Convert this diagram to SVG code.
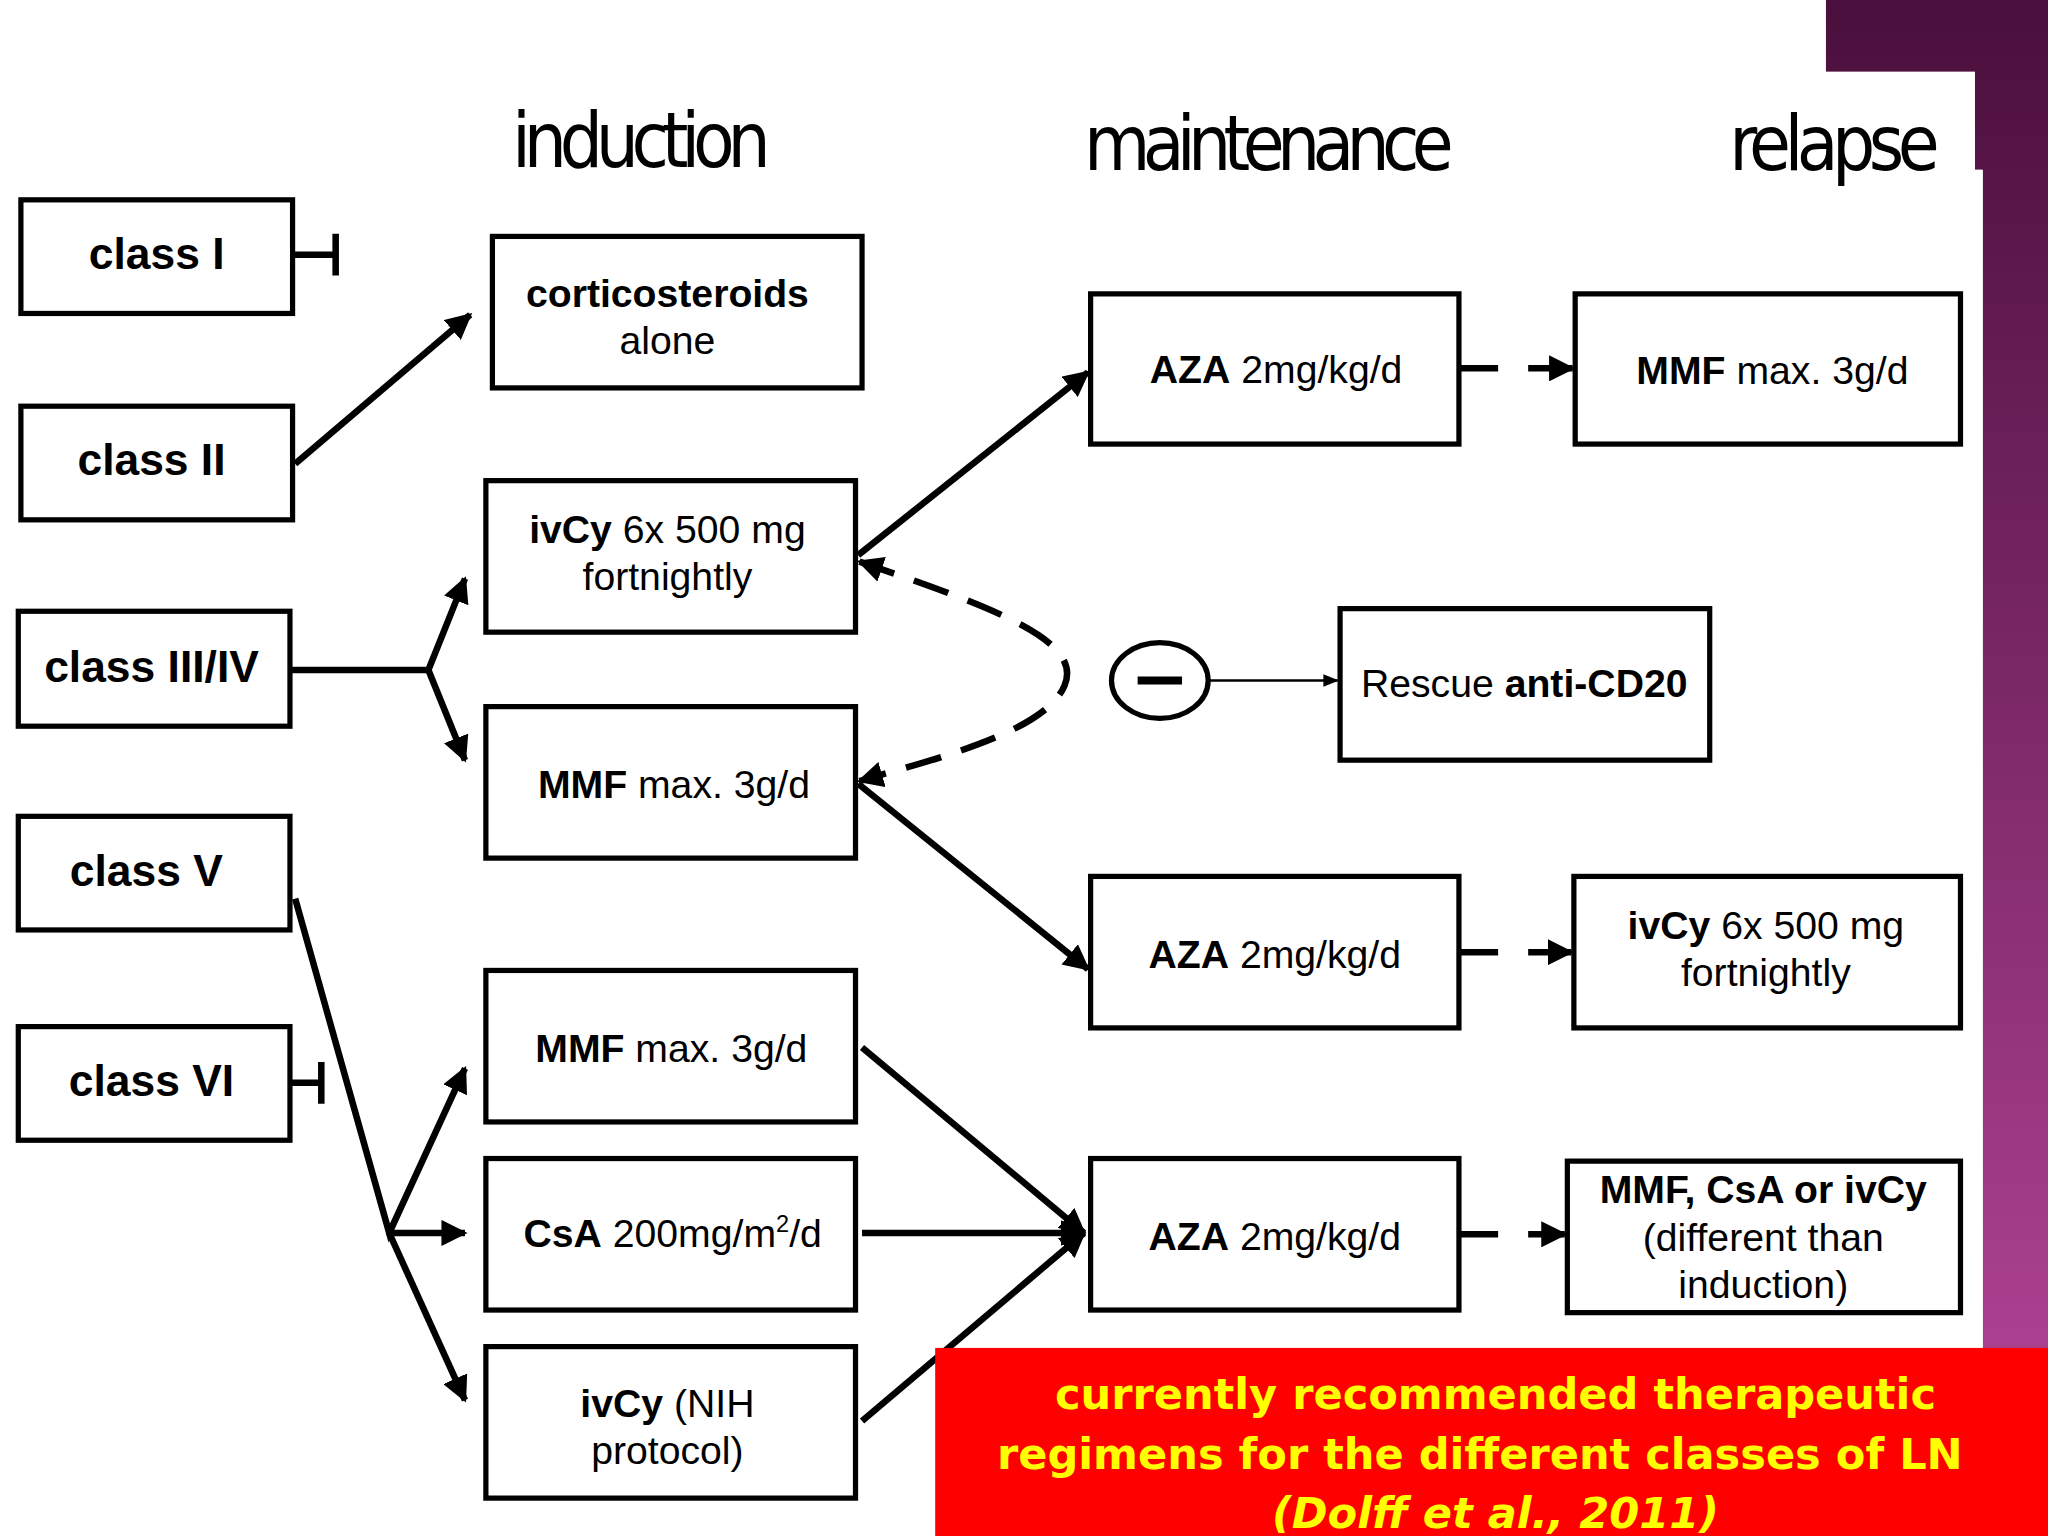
<svg xmlns="http://www.w3.org/2000/svg" width="2048" height="1536" viewBox="0 0 2048 1536">
<defs>
<linearGradient id="pg" x1="0" y1="0" x2="0" y2="1"><stop offset="0" stop-color="#4a0f3c"/><stop offset="1" stop-color="#b8479c"/></linearGradient>
<marker id="ah" viewBox="0 0 10 10" refX="9" refY="5" markerWidth="4" markerHeight="4" orient="auto-start-reverse" markerUnits="strokeWidth"><path d="M0,0 L10,5 L0,10 z" fill="#000"/></marker>
<marker id="ahs" viewBox="0 0 10 10" refX="9" refY="5" markerWidth="6" markerHeight="6" orient="auto" markerUnits="strokeWidth"><path d="M0,1 L10,5 L0,9 z" fill="#000"/></marker>
<style>
.b{fill:#fff;stroke:#000;stroke-width:4}
.c{fill:none;stroke:#000;stroke-width:5}
.t{font-family:"Liberation Sans",Arial,sans-serif;font-size:30px;fill:#000;text-anchor:middle}
.cl{font-family:"Liberation Sans",Arial,sans-serif;font-size:34px;font-weight:bold;fill:#000;text-anchor:middle}
.h{font-family:"DejaVu Sans Condensed","Liberation Sans Narrow","Liberation Sans",sans-serif;font-size:58px;fill:#000}
.y{font-family:"DejaVu Sans",Verdana,sans-serif;font-size:33px;font-weight:bold;fill:#ffff00;text-anchor:middle}
</style>
</defs>
<rect width="2048" height="1536" fill="#fff"/>
<g transform="scale(1.30612)">
<path d="M1398,0 H1568 V1176 H1518 V130 H1512 V55 H1398 Z" fill="url(#pg)"/>
<rect x="0" y="55" width="1512" height="1000" fill="#fff"/>
<rect x="1512" y="130" width="6" height="925" fill="#fff"/>
<g id="headers">
<text class="h" x="392" y="128" textLength="198">induction</text>
<text class="h" x="830" y="130" textLength="283">maintenance</text>
<text class="h" x="1324" y="130" textLength="161">relapse</text>
</g>
<g id="connectors">
<path class="c" d="M224,195 H257 M257,179 V211"/>
<path class="c" d="M226,355 L360,241" marker-end="url(#ah)"/>
<path class="c" d="M222,513 H328 L356,443" marker-end="url(#ah)"/>
<path class="c" d="M328,513 L356,582" marker-end="url(#ah)"/>
<path class="c" d="M226,688 L298,944 L356,818" marker-end="url(#ah)"/>
<path class="c" d="M298,944 H356" marker-end="url(#ah)"/>
<path class="c" d="M298,944 L356,1072" marker-end="url(#ah)"/>
<path class="c" d="M222,829 H246 M246,813 V845"/>
<path class="c" d="M657,425 L833,285" marker-end="url(#ah)"/>
<path class="c" d="M657,600 L833,742" marker-end="url(#ah)"/>
<path class="c" d="M660,802 L830,944" marker-end="url(#ah)"/>
<path class="c" d="M660,944 H830" marker-end="url(#ah)"/>
<path class="c" d="M660,1088 L830,944" marker-end="url(#ah)"/>
<path class="c" d="M1117,282 H1147 M1170,282 H1204" marker-end="url(#ah)"/>
<path class="c" d="M1117,729 H1147 M1170,729 H1203" marker-end="url(#ah)"/>
<path class="c" d="M1117,945 H1147 M1170,945 H1198" marker-end="url(#ah)"/>
<path class="c" d="M658,430 C760,465 830,490 815,525 C800,560 720,580 658,598" stroke-dasharray="28,16" marker-start="url(#ah)" marker-end="url(#ah)"/>
<ellipse cx="888" cy="521" rx="37" ry="29" fill="none" stroke="#000" stroke-width="4"/>
<path d="M871,521 H905" stroke="#000" stroke-width="6"/>
<path d="M926,521 H1024" stroke="#000" stroke-width="2" marker-end="url(#ahs)"/>
</g>
<g id="class1"><rect class="b" x="16" y="153" width="208" height="87"/><text class="cl" x="120" y="206">class I</text></g>
<g id="class2"><rect class="b" x="16" y="311" width="208" height="87"/><text class="cl" x="116" y="364">class II</text></g>
<g id="class34"><rect class="b" x="14" y="468" width="208" height="88"/><text class="cl" x="116" y="522">class III/IV</text></g>
<g id="class5"><rect class="b" x="14" y="625" width="208" height="87"/><text class="cl" x="112" y="678">class V</text></g>
<g id="class6"><rect class="b" x="14" y="786" width="208" height="87"/><text class="cl" x="116" y="839">class VI</text></g>
<g id="cortico"><rect class="b" x="377" y="181" width="283" height="116"/><text class="t" x="511" y="235" font-weight="bold">corticosteroids</text><text class="t" x="511" y="271">alone</text></g>
<g id="ivcy1"><rect class="b" x="372" y="368" width="283" height="116"/><text class="t" x="511" y="416"><tspan font-weight="bold">ivCy</tspan> 6x 500 mg</text><text class="t" x="511" y="452">fortnightly</text></g>
<g id="mmf1"><rect class="b" x="372" y="541" width="283" height="116"/><text class="t" x="516" y="611"><tspan font-weight="bold">MMF</tspan> max. 3g/d</text></g>
<g id="mmf2"><rect class="b" x="372" y="743" width="283" height="116"/><text class="t" x="514" y="813"><tspan font-weight="bold">MMF</tspan> max. 3g/d</text></g>
<g id="csa"><rect class="b" x="372" y="887" width="283" height="116"/><text class="t" x="515" y="955"><tspan font-weight="bold">CsA</tspan> 200mg/m<tspan font-size="18" dy="-12">2</tspan><tspan dy="12">/d</tspan></text></g>
<g id="ivcynih"><rect class="b" x="372" y="1031" width="283" height="116"/><text class="t" x="511" y="1085"><tspan font-weight="bold">ivCy</tspan> (NIH</text><text class="t" x="511" y="1121">protocol)</text></g>
<g id="aza1"><rect class="b" x="835" y="225" width="282" height="115"/><text class="t" x="977" y="293"><tspan font-weight="bold">AZA</tspan> 2mg/kg/d</text></g>
<g id="mmfr"><rect class="b" x="1206" y="225" width="295" height="115"/><text class="t" x="1357" y="294"><tspan font-weight="bold">MMF</tspan> max. 3g/d</text></g>
<g id="rescue"><rect class="b" x="1026" y="466" width="283" height="116"/><text class="t" x="1167" y="534">Rescue <tspan font-weight="bold">anti-CD20</tspan></text></g>
<g id="aza2"><rect class="b" x="835" y="671" width="282" height="116"/><text class="t" x="976" y="741"><tspan font-weight="bold">AZA</tspan> 2mg/kg/d</text></g>
<g id="ivcyr"><rect class="b" x="1205" y="671" width="296" height="116"/><text class="t" x="1352" y="719"><tspan font-weight="bold">ivCy</tspan> 6x 500 mg</text><text class="t" x="1352" y="755">fortnightly</text></g>
<g id="aza3"><rect class="b" x="835" y="887" width="282" height="116"/><text class="t" x="976" y="957"><tspan font-weight="bold">AZA</tspan> 2mg/kg/d</text></g>
<g id="mmfcsa"><rect class="b" x="1200" y="889" width="301" height="116"/><text class="t" x="1350" y="921" font-weight="bold">MMF, CsA or ivCy</text><text class="t" x="1350" y="958">(different than</text><text class="t" x="1350" y="994">induction)</text></g>
<g id="caption"><rect x="716" y="1032" width="852" height="150" fill="#ff0000"/>
<text class="y" x="1145" y="1079">currently recommended therapeutic</text>
<text class="y" x="1133" y="1125">regimens for the different classes of LN</text>
<text class="y" x="1145" y="1170" font-style="italic">(Dolff et al., 2011)</text></g>
</g>
</svg>
